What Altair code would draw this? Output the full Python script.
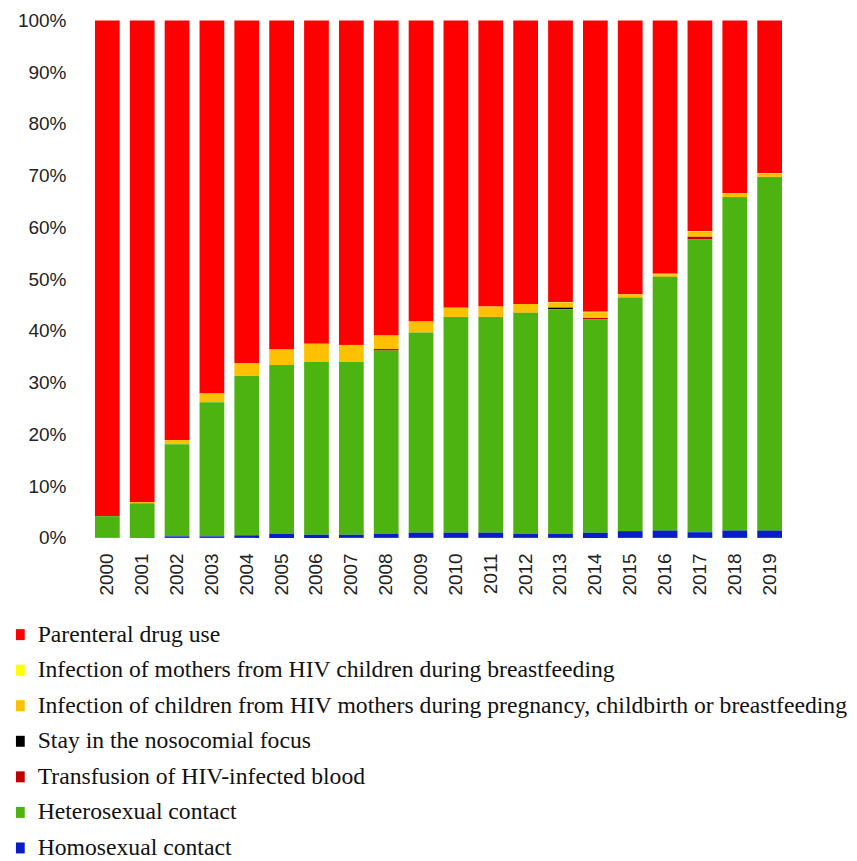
import altair as alt
import pandas as pd

years = [str(y) for y in range(2000, 2020)]

# legend order (top to bottom)
categories = [
    "Parenteral drug use",
    "Infection of mothers from HIV children during breastfeeding",
    "Infection of children from HIV mothers during pregnancy, childbirth or breastfeeding",
    "Stay in the nosocomial focus",
    "Transfusion of HIV-infected blood",
    "Heterosexual contact",
    "Homosexual contact",
]
colors = ["#FF0000", "#FFFF00", "#FFC000", "#000000", "#C00000", "#4DB311", "#0A1EC8"]

# percentages per year
homosexual = [0, 0, 0.3, 0.3, 0.5, 0.8, 0.6, 0.6, 0.8, 1.0, 1.0, 1.0, 0.8, 0.8, 1.0, 1.3, 1.4, 1.1, 1.4, 1.4]
heterosexual = [4.2, 6.7, 17.8, 25.9, 30.8, 32.6, 33.4, 33.4, 35.4, 38.7, 41.7, 41.7, 42.7, 43.4, 41.2, 45.1, 49.0, 56.6, 64.4, 68.3]
transfusion = [0, 0, 0, 0, 0, 0, 0, 0, 0.3, 0, 0, 0, 0, 0, 0.3, 0, 0, 0.5, 0, 0]
nosocomial = [0, 0, 0, 0, 0, 0, 0, 0, 0, 0, 0, 0, 0, 0.3, 0, 0, 0, 0, 0, 0]
children = [0, 0.2, 0.8, 1.7, 2.5, 3.0, 3.5, 3.3, 2.6, 2.1, 1.8, 2.0, 1.7, 1.0, 1.1, 0.5, 0.5, 1.0, 0.6, 0.6]
mothers = [0, 0, 0, 0, 0, 0, 0, 0, 0, 0, 0, 0, 0, 0.1, 0.1, 0.1, 0.1, 0.1, 0.1, 0.1]
parenteral = [95.8, 93.1, 81.1, 72.1, 66.2, 63.6, 62.5, 62.7, 60.9, 58.2, 55.5, 55.3, 54.8, 54.4, 56.3, 52.9, 48.9, 40.7, 33.4, 29.5]

series = [parenteral, mothers, children, nosocomial, transfusion, heterosexual, homosexual]

rows = []
for ci, (cat, vals) in enumerate(zip(categories, series)):
    stack_idx = len(categories) - 1 - ci  # homosexual at bottom
    for y, v in zip(years, vals):
        rows.append({"year": y, "category": cat, "value": v, "idx": stack_idx})
df = pd.DataFrame(rows)

chart = alt.Chart(df).mark_bar().encode(
    x=alt.X("year:N", title=None,
            scale=alt.Scale(paddingInner=0.29, paddingOuter=0.145),
            axis=alt.Axis(labelAngle=-90, labelFontSize=19, labelFont="Liberation Sans",
                          labelColor="#222", ticks=False, domain=False, labelPadding=15)),
    y=alt.Y("value:Q", stack="normalize", title=None,
            scale=alt.Scale(domain=[0, 1]),
            axis=alt.Axis(format=".0%", values=[i / 10 for i in range(11)], labelFontSize=19,
                          labelFont="Liberation Sans", labelColor="#222", ticks=False,
                          domain=False, grid=False, labelPadding=24)),
    color=alt.Color("category:N",
                    scale=alt.Scale(domain=categories, range=colors),
                    legend=alt.Legend(title=None, orient="none", legendX=-81.5, legendY=603,
                                      direction="vertical", labelFont="Liberation Serif",
                                      labelFontSize=23.7, labelColor="#111", labelLimit=1000,
                                      symbolType="M-0.8,-1H0.8V1H-0.8Z", symbolSize=121,
                                      symbolStrokeWidth=0, rowPadding=10.6, labelOffset=5.5,
                                      padding=0)),
    order=alt.Order("idx:Q", sort="ascending"),
).properties(
    width=698, height=518,
    padding={"left": 0, "top": 3, "right": 0, "bottom": 0},
    background="white",
).configure_view(stroke=None)

chart.save("out.html", embed_options={"renderer": "svg", "actions": False})
